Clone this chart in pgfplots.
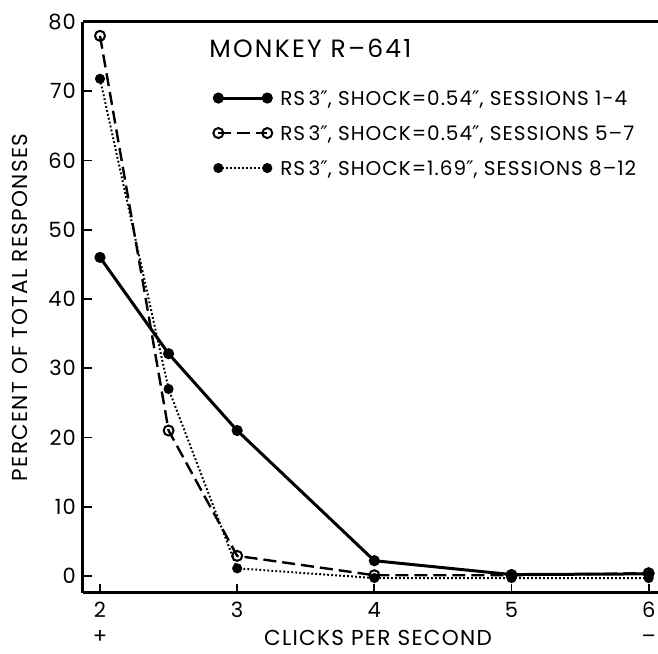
\documentclass[border=0pt]{standalone}
\usepackage{pgfplots}
\pgfplotsset{compat=1.18}
\usepackage{fontspec}
\setmainfont{Poppins}[LetterSpace=5]
\newfontfamily\djfont{DejaVu Sans}
\newcommand{\dq}{{\djfont ″}}
\begin{document}
\begin{tikzpicture}
\begin{axis}[
  name=main,
  scale only axis,
  width=287.5pt, height=285.5pt,
  xmin=1.876, xmax=6.068,
  ymin=-2.46, ymax=80,
  axis x line*=bottom,
  axis y line*=left,
  axis line style={line width=1.5pt},
  tick align=inside,
  major tick length=4.5pt,
  tick style={line width=0.9pt, black},
  xtick={2,3,4,5,6},
  xticklabels={{2\\[1pt]+},{3},{4},{5},{6\\[1pt]--}},
  xticklabel style={align=center, font=\fontsize{10.5}{12}\selectfont, anchor=north, yshift=-1pt},
  ytick={0,10,...,80},
  yticklabel style={font=\fontsize{10.5}{12}\selectfont, anchor=east},
  /pgf/number format/assume math mode=true,
  xlabel={CLICKS PER SECOND},
  ylabel={PERCENT OF TOTAL RESPONSES},
  label style={font=\fontsize{10.8}{12}\selectfont\addfontfeatures{LetterSpace=6}},
  xlabel style={at={(axis description cs:0.513,0)}, anchor=center, inner sep=0pt, yshift=-22.5pt},
  ylabel style={at={(axis description cs:-0.1096,0.5)}, anchor=center},
  legend style={at={(rel axis cs:0.226,0.885)}, anchor=north west, draw=none, fill=none,
    font=\fontsize{10}{11}\selectfont, row sep=7.5pt, column sep=4pt, inner sep=0pt,
    nodes={inner sep=0pt, text height=8.5pt, text depth=1.5pt}},
  legend cell align=left,
  legend image code/.code={\draw[mark repeat=1,mark phase=1,#1] plot coordinates {(0cm,0cm) (0.86cm,0cm)};},
  clip=false,
  extra description/.code={\draw[line width=1.5pt] (0,1) -- (1,1);},
]
\addplot[black, line width=1.5pt, mark=*, mark size=2pt, mark options={solid}] coordinates {
  (2,46) (2.5,32.1) (3,21) (4,2.2) (5,0.2) (6,0.3)};
\addlegendentry{RS\,3\dq, SHOCK=0.54\dq, SESSIONS 1-4}
\addplot[black, line width=1.2pt, dash pattern=on 6.5pt off 3pt, mark=o, mark size=2.5pt, mark options={solid, fill=white, line width=1pt}] coordinates {
  (2,78) (2.5,21) (3,2.9) (4,0.1) (5,0.1) (6,0.4)};
\addlegendentry{RS\,3\dq, SHOCK=0.54\dq, SESSIONS 5--7}
\addplot[black, line width=1pt, dash pattern=on 0.9pt off 1.1pt, mark=*, mark size=2pt, mark options={solid}] coordinates {
  (2,71.8) (2.5,27) (3,1.1) (4,-0.3) (5,-0.3) (6,-0.3)};
\addlegendentry{RS\,3\dq, SHOCK=1.69\dq, SESSIONS 8--12}
\node[anchor=west, inner sep=0pt, font=\fontsize{12.5}{14}\selectfont\addfontfeatures{LetterSpace=9}] at (rel axis cs:0.219,0.954) {MONKEY R--641};
\end{axis}
\pgfresetboundingbox
\useasboundingbox ([xshift=-41.5pt,yshift=-30.5pt]main.south west) rectangle ([yshift=11pt]main.north east);
\end{tikzpicture}
\end{document}
